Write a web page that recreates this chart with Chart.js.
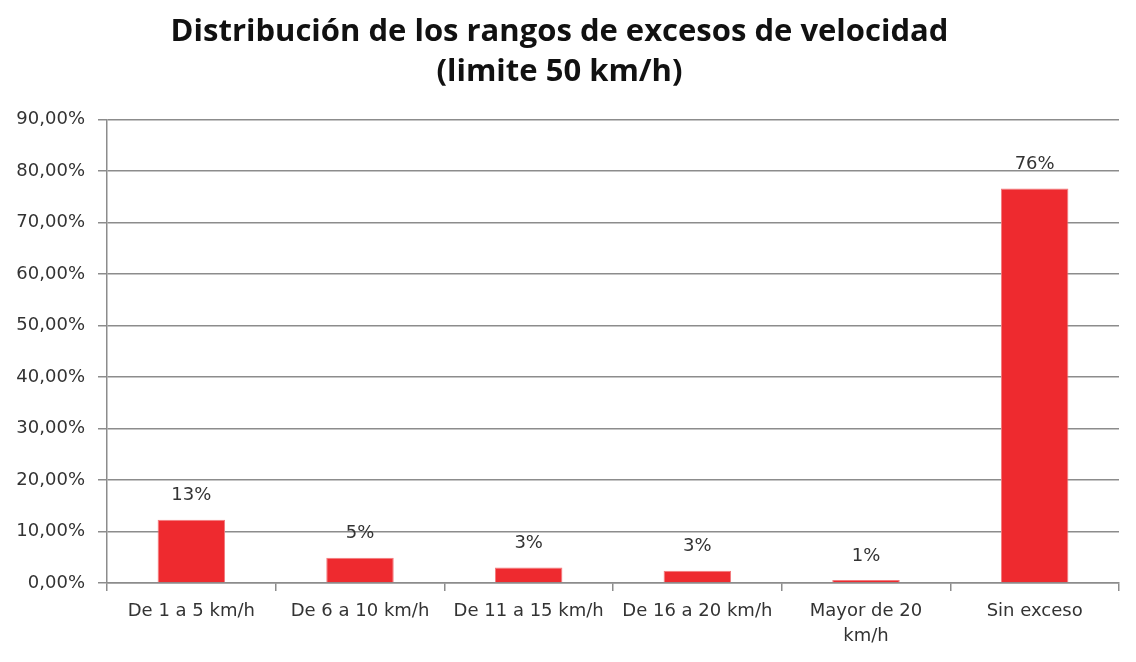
<!DOCTYPE html>
<html>
<head>
<meta charset="utf-8">
<script src="https://cdn.jsdelivr.net/npm/chart.js@4"></script>
<style>
  html, body { margin: 0; padding: 0; background: #fff; }
  #wrap { width: 1136px; height: 662px; }
</style>
</head>
<body>
<div id="wrap"><canvas id="speedChart"></canvas></div>
<script>
// Categories and values (percent)
const categories = ['De 1 a 5 km/h', 'De 6 a 10 km/h', 'De 11 a 15 km/h', 'De 16 a 20 km/h', ['Mayor de 20', 'km/h'], 'Sin exceso'];
const shares = [12.3, 4.9, 3.0, 2.4, 0.6, 76.6];
const shareLabels = ['13%', '5%', '3%', '3%', '1%', '76%'];
const titleLines = ['Distribución de los rangos de excesos de velocidad', '(limite 50 km/h)'];

const gridColor = '#8c8c8c';
const textColor = '#333333';

// Draw the percentage label above each bar
const barLabels = {
    id: 'barLabels',
    afterDatasetsDraw(chart) {
        const ctx = chart.ctx;
        const meta = chart.getDatasetMeta(0);
        ctx.save();
        ctx.font = '18px "DejaVu Sans"';
        ctx.fillStyle = textColor;
        ctx.textAlign = 'center';
        ctx.textBaseline = 'middle';
        meta.data.forEach((bar, i) => {
            ctx.fillText(shareLabels[i], bar.x, bar.y - 24);
        });
        ctx.restore();
    }
};

new Chart(document.getElementById('speedChart'), {
    type: 'bar',
    data: {
        labels: categories,
        datasets: [{
            data: shares,
            backgroundColor: '#ee2a2f',
            borderColor: '#f27a7d',
            borderWidth: 1,
            categoryPercentage: 1,
            barPercentage: 0.4
        }]
    },
    options: {
        responsive: true,
        maintainAspectRatio: false,
        animation: false,
        layout: { padding: { left: 0, right: 17, top: 0, bottom: 0 } },
        plugins: {
            legend: { display: false },
            tooltip: { enabled: false },
            title: {
                display: true,
                text: titleLines,
                color: '#111',
                font: { family: '"Open Sans"', size: 31, weight: 'bold', lineHeight: 1.3 },
                padding: { top: 12, bottom: 27 }
            }
        },
        scales: {
            x: {
                afterFit: scale => { scale.height = 79; },
                grid: {
                    drawOnChartArea: false,
                    drawTicks: true,
                    tickLength: 8,
                    color: gridColor,
                    lineWidth: 1.5
                },
                border: { color: gridColor, width: 1.5 },
                ticks: {
                    color: textColor,
                    font: { family: '"DejaVu Sans"', size: 18, lineHeight: 1.4 },
                    maxRotation: 0,
                    autoSkip: false,
                    padding: 8
                }
            },
            y: {
                min: 0,
                max: 90,
                afterFit: scale => { scale.width = 107; },
                grid: {
                    color: gridColor,
                    lineWidth: 1.5,
                    tickLength: 9
                },
                border: { color: gridColor, width: 1.5 },
                ticks: {
                    stepSize: 10,
                    color: textColor,
                    font: { family: '"DejaVu Sans"', size: 18 },
                    padding: 13,
                    callback: v => v.toFixed(2).replace('.', ',') + '%'
                }
            }
        }
    },
    plugins: [barLabels]
});
</script>
</body>
</html>
